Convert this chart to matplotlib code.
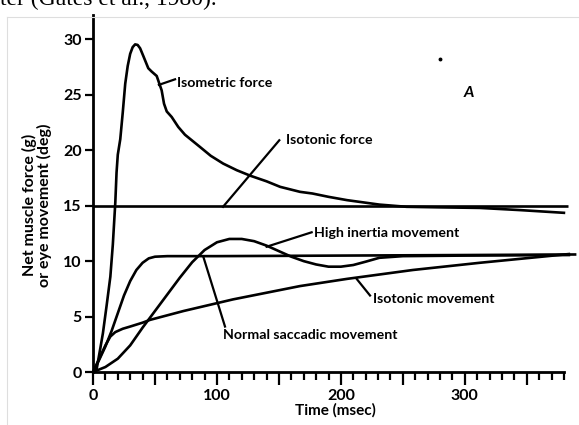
import matplotlib
matplotlib.use("Agg")
import matplotlib.pyplot as plt
from matplotlib.lines import Line2D
from matplotlib.ticker import FixedLocator, NullFormatter

# curves (time in msec)
iso_force_t = [0, 3, 6, 8, 11, 14, 16, 18, 19, 20, 22, 24, 26, 28, 30, 32, 34, 36, 38, 40.6,
               44.6, 47.3, 51.4, 55.4, 57.3, 59.5, 63.5, 68.8, 74.2, 86.3, 95, 105, 116, 127,
               140, 151, 167, 177, 190, 205, 218, 231, 253, 280, 312, 345, 381]
iso_force_y = [0, 0.3, 2.2, 3.5, 6, 8.6, 11.5, 15.3, 18, 19.6, 21, 23.4, 26, 27.6, 28.7, 29.3,
               29.55, 29.5, 29.2, 28.5, 27.4, 27.1, 26.7, 25.4, 24.2, 23.5, 23.0, 22.1, 21.4,
               20.3, 19.5, 18.8, 18.2, 17.7, 17.2, 16.7, 16.25, 16.1, 15.8, 15.5, 15.3, 15.1,
               14.9, 14.85, 14.8, 14.6, 14.35]

isotonic_force_t = [0, 383]
isotonic_force_y = [15, 15]

saccade_t = [0, 5, 10, 15, 20, 25, 30, 35, 40, 45, 50, 60, 100, 200, 300, 390]
saccade_y = [0, 1.1, 2.3, 3.7, 5.3, 6.9, 8.2, 9.2, 9.85, 10.25, 10.4, 10.45, 10.45, 10.5,
             10.55, 10.6]

iso_move_t = [0, 5, 10, 14, 18, 24, 30, 40, 46, 73, 113, 140, 167, 205, 258, 312, 385]
iso_move_y = [0, 1.2, 2.4, 3.2, 3.6, 3.9, 4.1, 4.45, 4.7, 5.5, 6.55, 7.15, 7.75, 8.4, 9.2,
              9.85, 10.65]

inertia_t = [0, 10, 20, 30, 40, 50, 60, 70, 80, 90, 100, 110, 120, 130, 140, 150, 160, 170,
             180, 190, 200, 210, 220, 231, 250, 300, 385]
inertia_y = [0, 0.45, 1.2, 2.4, 4.0, 5.5, 7.0, 8.5, 9.9, 11.0, 11.7, 12.0, 12.0, 11.8, 11.4,
             10.9, 10.4, 10.0, 9.7, 9.5, 9.5, 9.65, 9.95, 10.3, 10.45, 10.5, 10.55]

yticks = [0, 5, 10, 15, 20, 25, 30]
xticks_major = [0, 50, 100, 150, 200, 250, 300, 350]
xticks_minor = list(range(0, 390, 10))
xlabels_shown = [0, 100, 200, 300]

# label text, text anchor (left/center), leader line start -> end
labels = [
    ("Isometric force", (68, 26.1), (53.2, 25.9), (66.2, 26.4)),
    ("Isotonic force", (156, 20.9), (104.9, 14.9), (150.3, 20.9)),
    ("High inertia movement", (178, 12.5), (140.1, 11.3), (176.4, 12.6)),
    ("Isotonic movement", (226, 6.6), (212.7, 8.4), (223.5, 6.9)),
    ("Normal saccadic movement", (105, 3.3), (89, 10.4), (106.5, 4.1)),
]

font = ["Lato", "DejaVu Sans"]
plt.rcParams["font.family"] = font

W, H = 579, 425
fig = plt.figure(figsize=(W / 100, H / 100), dpi=100)
ax = fig.add_axes([93 / W, (H - 372) / H, 471 / W, 357 / H])
ax.set_xlim(0, 380)
ax.set_ylim(0, 32.2)

lw = 1.9
for t, y in [(iso_force_t, iso_force_y), (isotonic_force_t, isotonic_force_y),
             (saccade_t, saccade_y), (iso_move_t, iso_move_y), (inertia_t, inertia_y)]:
    ax.plot(t, y, color="black", lw=lw, clip_on=False, solid_capstyle="butt",
            solid_joinstyle="round")

for text, (tx, ty), p0, p1 in labels:
    ax.plot([p0[0], p1[0]], [p0[1], p1[1]], color="black", lw=1.6, clip_on=False)
    ax.text(tx, ty, text, ha="left", va="center", fontsize=10.2, fontweight="bold")

ax.text(303, 25.2, "A", ha="center", va="center", fontsize=11.5, fontweight="bold",
        fontstyle="italic")
ax.plot([280], [28.2], marker="o", ms=1.8, color="black", clip_on=False)

for side in ["top", "right"]:
    ax.spines[side].set_visible(False)
for side in ["left", "bottom"]:
    ax.spines[side].set_linewidth(2)

ax.yaxis.set_major_locator(FixedLocator(yticks))
ax.tick_params(axis="y", direction="out", length=6, width=1.6, pad=2, labelsize=11.5)
ax.xaxis.set_major_locator(FixedLocator(xticks_major))
ax.xaxis.set_minor_locator(FixedLocator(xticks_minor))
ax.set_xticklabels([str(v) if v in xlabels_shown else "" for v in xticks_major])
ax.xaxis.set_minor_formatter(NullFormatter())
ax.tick_params(axis="x", which="major", direction="out", length=9, width=1.6, pad=3,
               labelsize=11.5)
ax.tick_params(axis="x", which="minor", direction="out", length=6, width=1.6)
for lab in ax.get_xticklabels() + ax.get_yticklabels():
    lab.set_fontweight("bold")

fig.text(335 / W, 1 - 410 / H, "Time (msec)", ha="center", va="center", fontsize=11,
         fontweight="bold")
fig.text(37 / W, 1 - 205 / H, "Net muscle force (g)\nor eye movement (deg)", rotation=90,
         ha="center", va="center", fontsize=11.5, fontweight="bold", linespacing=1.05)

# cut-off caption from the page above and the scan frame
fig.text(0, 1 - 5 / H, "ter (Gates et al., 1980).", ha="left", va="baseline",
         fontsize=17, family="Liberation Serif")
fig.add_artist(Line2D([7 / W, 1], [1 - 17 / H, 1 - 17 / H], color="#dedede", lw=0.8))
fig.add_artist(Line2D([7 / W, 7 / W], [0, 1 - 17 / H], color="#dedede", lw=0.8))

fig.savefig("out.png", dpi=100)
